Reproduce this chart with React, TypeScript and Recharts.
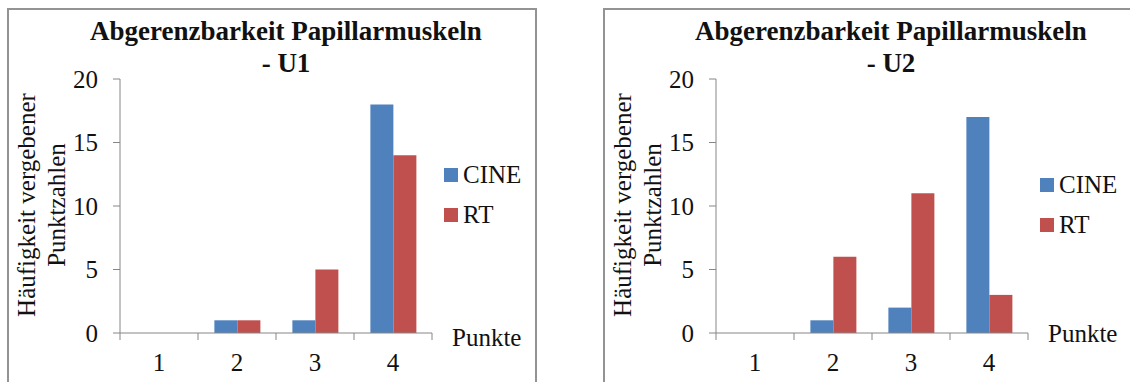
import React from 'react';
import { BarChart, Bar, XAxis, YAxis, Legend } from 'recharts';

const categories = ['1', '2', '3', '4'];
const u1Cine = [0, 1, 1, 18];
const u1Rt = [0, 1, 5, 14];
const u2Cine = [0, 1, 2, 17];
const u2Rt = [0, 6, 11, 3];
const yTicks = [0, 5, 10, 15, 20];

const SERIF =
  "'Liberation Serif', Tinos, 'Times New Roman', Times, 'Nimbus Roman', 'Nimbus Roman No9 L', FreeSerif, 'Noto Serif', 'DejaVu Serif', 'Noto Serif CJK SC', 'Noto Serif CJK JP', serif";
const AXIS = '#868686';
const BLUE = '#4F81BD';
const RED = '#C0504D';

// chart geometry (shared by both panels)
const CHART_W = 560;
const CHART_H = 382;
const PLOT_LEFT = 120;
const PLOT_RIGHT = 432;
const PLOT_TOP = 79;
const PLOT_BOTTOM = 333;
const LEGEND_W = 100;
const PLOT_W = PLOT_RIGHT - PLOT_LEFT;

const buildRows = (cine: number[], rt: number[]) =>
  categories.map((c, i) => ({ punkte: c, CINE: cine[i], RT: rt[i] }));

const CategoryTick = (props: any) => {
  const { x, y, payload, index } = props;
  const half = PLOT_W / categories.length / 2;
  return (
    <g>
      <line x1={x - half} x2={x - half} y1={y} y2={y + 7} stroke={AXIS} />
      {index === categories.length - 1 && (
        <line x1={x + half} x2={x + half} y1={y} y2={y + 7} stroke={AXIS} />
      )}
      <text x={x} y={y + 38} textAnchor="middle" fontSize={25} style={{ fontFamily: SERIF }} fill="#111">
        {payload.value}
      </text>
    </g>
  );
};

const YTitle = () => {
  const cx = 35;
  const cy = 205;
  return (
    <text
      x={cx}
      y={cy}
      transform={`rotate(-90, ${cx}, ${cy})`}
      textAnchor="middle"
      fontSize={25}
      style={{ fontFamily: SERIF }}
      fill="#111"
    >
      <tspan x={cx} dy={0}>Häufigkeit vergebener</tspan>
      <tspan x={cx} dy={30}>Punktzahlen</tspan>
    </text>
  );
};

const SeriesLegend = ({ payload }: any) => (
  <div style={{ fontFamily: SERIF }}>
    {(payload || []).map((entry: any) => (
      <div
        key={entry.value}
        style={{ display: 'flex', alignItems: 'center', height: 14, marginBottom: 26 }}
      >
        <span style={{ width: 14, height: 14, background: entry.color, marginRight: 5 }} />
        <span style={{ fontSize: 25, color: '#111', whiteSpace: 'nowrap' }}>{entry.value}</span>
      </div>
    ))}
  </div>
);

interface PanelProps {
  left: number;
  title: string;
  cine: number[];
  rt: number[];
  titleCenter: number;
  legendTop: number;
  punkteY: number;
}

const Panel: React.FC<PanelProps> = ({ left, title, cine, rt, titleCenter, legendTop, punkteY }) => {
  const rows = buildRows(cine, rt);
  return (
    <div style={{ position: 'absolute', left, top: 0, width: CHART_W, height: CHART_H }}>
      <div
        style={{
          position: 'absolute',
          left: 7,
          top: 8,
          width: 530,
          height: 400,
          border: '2px solid #939393',
          boxSizing: 'border-box',
        }}
      />
      <div
        style={{
          position: 'absolute',
          left: titleCenter - 250,
          top: 15,
          width: 500,
          textAlign: 'center',
          fontFamily: SERIF,
          fontWeight: 'bold',
          fontSize: 27,
          lineHeight: '32px',
          color: '#111',
        }}
      >
        Abgerenzbarkeit Papillarmuskeln
        <br />- {title}
      </div>
      <div style={{ position: 'absolute', left: 0, top: 0 }}>
        <BarChart
          width={CHART_W}
          height={CHART_H}
          data={rows}
          style={{ fontFamily: SERIF }}
          margin={{
            top: PLOT_TOP,
            left: PLOT_LEFT - 60,
            right: CHART_W - PLOT_RIGHT - LEGEND_W,
            bottom: CHART_H - PLOT_BOTTOM - 40,
          }}
          barCategoryGap="21%"
          barGap={0}
        >
          <XAxis
            dataKey="punkte"
            height={40}
            stroke={AXIS}
            tickLine={false}
            tickSize={0}
            tickMargin={0}
            tick={<CategoryTick />}
            label={{
              content: () => (
                <text x={PLOT_RIGHT + 20} y={punkteY + 9} fontSize={25} style={{ fontFamily: SERIF }} fill="#111">
                  Punkte
                </text>
              ),
            }}
          />
          <YAxis
            width={60}
            domain={[0, 20]}
            ticks={yTicks}
            stroke={AXIS}
            tickSize={7}
            tickMargin={15}
            tick={{ fontSize: 25, fill: '#111', style: { fontFamily: SERIF } }}
            label={{ content: () => <YTitle /> }}
          />
          <Legend
            layout="vertical"
            align="right"
            verticalAlign="top"
            content={<SeriesLegend />}
            wrapperStyle={{ left: 444, top: legendTop, right: 'auto', bottom: 'auto', width: LEGEND_W }}
          />
          <Bar dataKey="CINE" fill={BLUE} isAnimationActive={false} />
          <Bar dataKey="RT" fill={RED} isAnimationActive={false} />
        </BarChart>
      </div>
    </div>
  );
};

export default function App() {
  return (
    <div
      style={{
        position: 'absolute',
        left: 0,
        top: 0,
        width: 1130,
        height: 382,
        overflow: 'hidden',
        background: '#fff',
        fontFamily: SERIF,
      }}
    >
      <Panel left={0} title="U1" cine={u1Cine} rt={u1Rt} titleCenter={286} legendTop={168} punkteY={337} />
      <Panel left={596} title="U2" cine={u2Cine} rt={u2Rt} titleCenter={295} legendTop={178} punkteY={333} />
    </div>
  );
}
